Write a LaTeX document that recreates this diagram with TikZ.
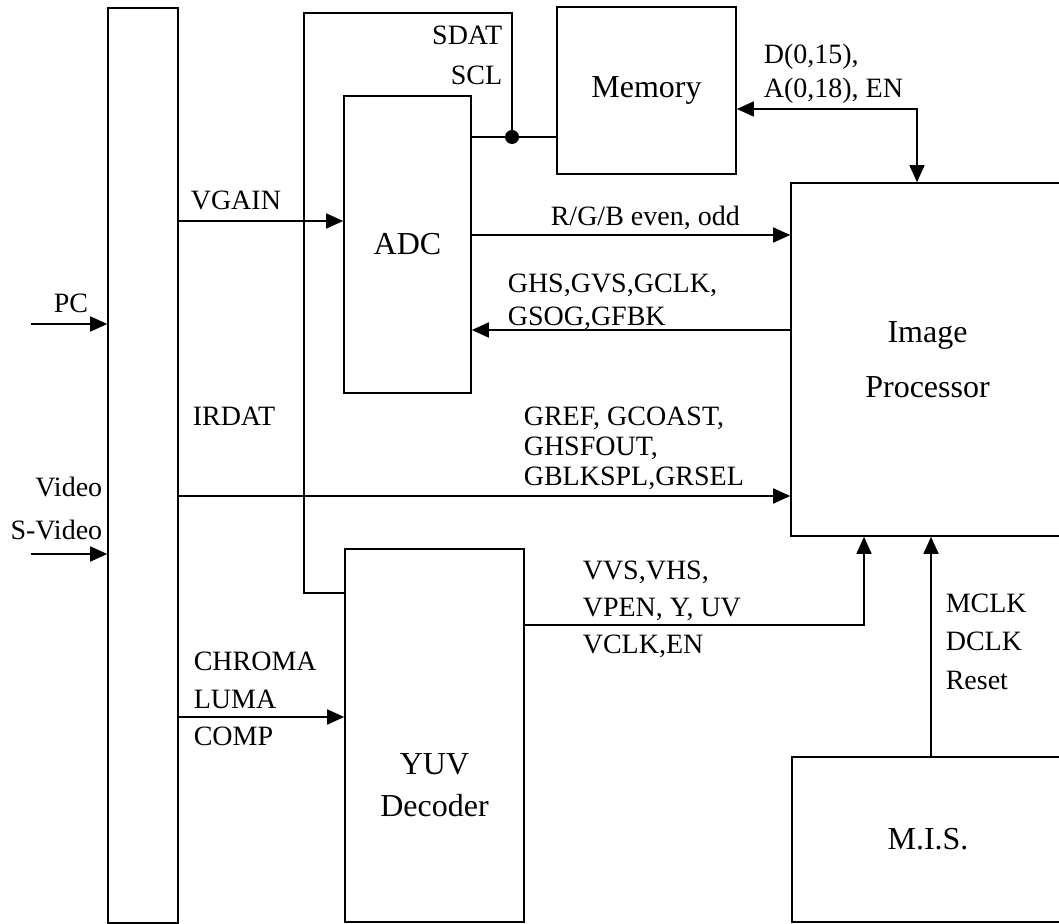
\documentclass[tikz,border=0pt]{standalone}
\usepackage{fontspec}
\setmainfont{Liberation Serif}
\usetikzlibrary{arrows.meta, positioning}

\tikzset{
  blk/.style={draw, line width=0.8pt, inner sep=0pt, align=center,
    font=\fontsize{16}{21}\selectfont},
  sig/.style={inner sep=0pt, font=\fontsize{14}{17}\selectfont},
  >={Triangle[length=8.5pt,width=7.5pt]}
}

\begin{document}
\begin{tikzpicture}[x=0.5pt, y=-0.5pt, line width=0.8pt]
\useasboundingbox (0,0) rectangle (1059,924);
\clip (0,0) rectangle (1059,924);

% blocks
\node[blk, minimum width=35pt, minimum height=457.5pt] (bar) at (143,465.5) {};
\node[blk, minimum width=63.5pt, minimum height=148.5pt] (adc) at (407.5,244.5) {ADC};
\node[blk, minimum width=89.5pt, minimum height=83.5pt] (mem) at (646.5,90.5) {Memory};
\node[blk, minimum width=136.5pt, minimum height=176.5pt,
      font=\fontsize{16}{27.5}\selectfont] (ip) at (927.5,359.5) {Image\\Processor};
\node[blk, minimum width=89.5pt, minimum height=186.5pt] (yuv) at (434.5,735.5) {};
\node[align=center, inner sep=0pt, font=\fontsize{16}{21}\selectfont] (yuvtxt) at (434.5,785) {YUV\\Decoder};
\node[blk, minimum width=136pt, minimum height=82.5pt] (mis) at (928,839.5) {M.I.S.};

% inputs
\coordinate (pcin) at (31,324);
\coordinate (svin) at (31,554);
\draw[->] (pcin) -- (pcin -| bar.west);
\draw[->] (svin) -- (svin -| bar.west);

% signal lines
\draw[->] (bar.east |- 0,221) -- (adc.west |- 0,221);
\draw[->] (adc.east |- 0,235) -- (ip.west |- 0,235);
\draw[->] (ip.west |- 0,330) -- (adc.east |- 0,330);
\draw[->] (bar.east |- 0,496) -- (ip.west |- 0,496);
\draw[->] (bar.east |- 0,717) -- (yuv.west |- 0,717);
\draw[<->] (mem.east |- 0,109) -| (917,0 |- ip.north);
\draw[->] (yuv.east |- 0,625) -| (864,0 |- ip.south);
\draw[->] (mis.north -| 931,0) -- (ip.south -| 931,0);

% i2c bus
\coordinate (tap) at (512,137);
\coordinate (busTR) at (512,13);
\coordinate (busTL) at (304,13);
\coordinate (busBL) at (304,593);
\draw (adc.east |- tap) -- (mem.west |- tap);
\fill (tap) circle[radius=3.5pt];
\draw (tap) -- (busTR) -- (busTL) -- (busBL) -- (yuv.west |- busBL);

% labels
\node[sig, align=right, anchor=east, font=\fontsize{14}{20}\selectfont] (sdat) at (503,55) {SDAT\\SCL};
\node[sig, align=left, anchor=west] (dlab) at (763,74) {D(0,15),\\A(0,18), EN};
\node[sig, anchor=west] (vgain) at (190,200) {VGAIN};
\node[sig] (pc) at (71,303) {PC};
\node[sig, anchor=east] (video) at (103,487) {Video};
\node[sig, anchor=east] (svideo) at (103,530) {S-Video};
\node[sig, anchor=west] (rgb) at (550,218) {R/G/B even, odd};
\node[sig, align=left, anchor=west, font=\fontsize{14}{16.5}\selectfont] (ghs) at (507,301.5) {GHS,GVS,GCLK,\\GSOG,GFBK};
\node[sig] (irdat) at (234,416) {IRDAT};
\node[sig, align=left, anchor=west, font=\fontsize{14}{15}\selectfont] (gref) at (523,448) {GREF, GCOAST,\\GHSFOUT,\\GBLKSPL,GRSEL};
\node[sig, align=left, anchor=west, font=\fontsize{14}{18.75}\selectfont] (chroma) at (193,699) {CHROMA\\LUMA\\COMP};
\node[sig, align=left, anchor=west, font=\fontsize{14}{18.5}\selectfont] (vvs) at (582,609) {VVS,VHS,\\VPEN, Y, UV\\VCLK,EN};
\node[sig, align=left, anchor=west, font=\fontsize{14}{19.25}\selectfont] (mclk) at (945,641.5) {MCLK\\DCLK\\Reset};
\end{tikzpicture}
\end{document}
